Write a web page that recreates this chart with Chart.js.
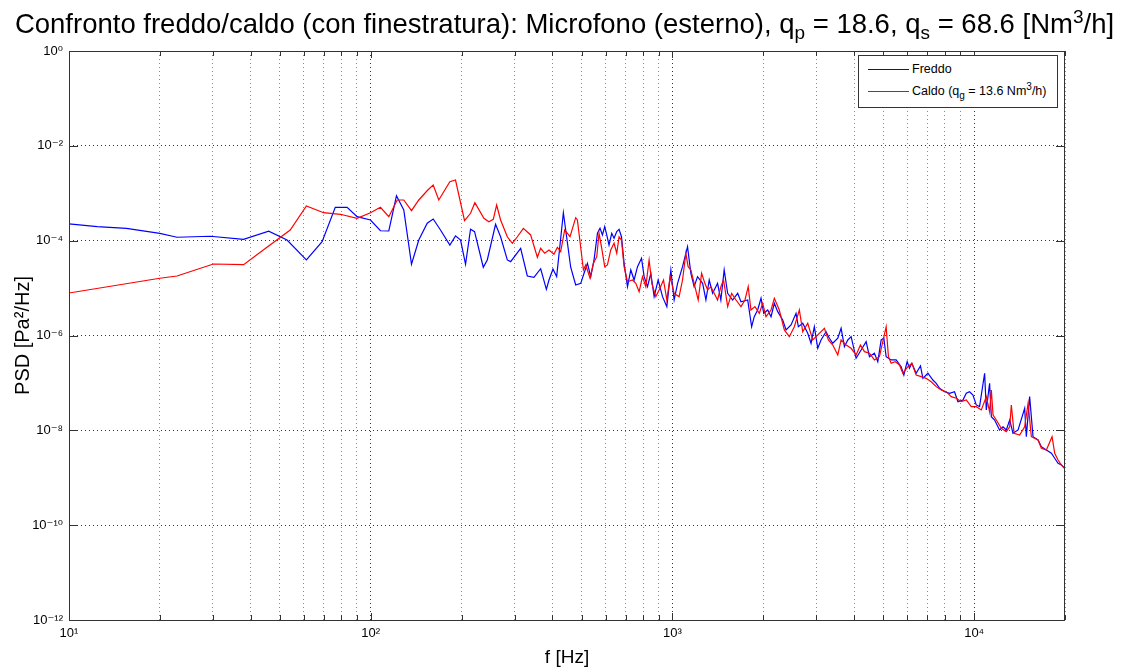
<!DOCTYPE html>
<html>
<head>
<meta charset="utf-8">
<title>Confronto freddo/caldo</title>
<script src="https://cdn.jsdelivr.net/npm/chart.js@4.4.1/dist/chart.umd.min.js"></script>
<style>
  html, body { margin: 0; padding: 0; background: #fff; }
  body { width: 1129px; height: 671px; position: relative; overflow: hidden;
         font-family: 'Liberation Sans', Arial, Helvetica, 'DejaVu Sans', sans-serif; color: #000; }
  #wrap { position: absolute; left: 0; top: 0; width: 1129px; height: 671px; }
  #title { position: absolute; left: 0; top: 9px; width: 1129px; text-align: center;
           font-size: 27.5px; line-height: 30px; white-space: nowrap; }
  #title sub { font-size: 19px; vertical-align: -6px; line-height: 0; }
  #title sup { font-size: 19px; vertical-align: 10px; line-height: 0; }
  #legend { position: absolute; left: 858px; top: 55px; width: 198px; height: 51px;
            border: 1px solid #333; background: #fff; font-size: 12.5px; }
  #legend .row { position: absolute; left: 9px; height: 16px; line-height: 16px; white-space: nowrap; }
  #legend .swatch { display: inline-block; width: 41px; height: 1px; vertical-align: middle; margin-right: 3px; }
  #legend sub { font-size: 10px; vertical-align: -4px; line-height: 0; }
  #legend sup { font-size: 10px; vertical-align: 5px; line-height: 0; }
</style>
</head>
<body>
<div id="wrap"><canvas id="psdChart"></canvas></div>
<div id="title">Confronto freddo/caldo (con finestratura): Microfono (esterno), q<sub>p</sub> = 18.6, q<sub>s</sub> = 68.6 [Nm<sup>3</sup>/h]</div>
<div id="legend">
  <div class="row" style="top:5px"><span class="swatch" style="background:#0000ff"></span>Freddo</div>
  <div class="row" style="top:27px"><span class="swatch" style="background:#ff0000"></span>Caldo (q<sub>g</sub> = 13.6 Nm<sup>3</sup>/h)</div>
</div>
<script>
// ── data (f in Hz, PSD in Pa^2/Hz) ──
const freqFreddo = [10, 12.4, 15.5, 20.0, 22.8, 29.4, 37.9, 45.9, 52.8, 61.2,
    69.0, 76.3, 83.5, 90.1, 99.8, 107.7, 114.8, 121.7, 128.7, 136.5,
    144.3, 153.9, 161.1, 170.3, 182.9, 191.0, 198.5, 206.2, 214.2, 220.9,
    236.1, 243.4, 259.3, 269.4, 283.6, 290.9, 314.0, 330.4, 347.5, 365.8,
    382.1, 389.8, 401.8, 413.3, 435.0, 460.0, 477.9, 496.6, 509.3, 522.7,
    536.0, 549.7, 564.2, 575.4, 586.1, 596.4, 605.6, 616.3, 629.2, 640.4,
    653.8, 665.4, 677.8, 691.4, 709.6, 727.7, 746.3, 766.0, 789.7, 805.6,
    826.7, 847.9, 869.6, 896.6, 927.1, 958.1, 987.9, 1013, 1040, 1080,
    1122, 1151, 1180, 1211, 1259, 1291, 1324, 1359, 1411, 1447,
    1484, 1524, 1583, 1645, 1687, 1776, 1830, 1867, 1916, 1966,
    2007, 2069, 2122, 2176, 2233, 2320, 2380, 2472, 2568, 2614,
    2703, 2808, 2880, 2953, 3031, 3108, 3229, 3312, 3399, 3532,
    3622, 3715, 3812, 3910, 4061, 4220, 4385, 4497, 4670, 4793,
    4917, 5019, 5108, 5306, 5512, 5728, 5848, 5997, 6104, 6216,
    6423, 6638, 6761, 7025, 7299, 7486, 7678, 7978, 8288, 8608,
    8835, 9180, 9415, 9654, 9908, 10160, 10420, 10830, 10970, 11250,
    11400, 11690, 12140, 12460, 12780, 13110, 13450, 13980, 14700, 14890,
    15270, 15670, 16280, 16700, 17350, 18030, 18490, 18970, 19460, 19950,
    20000];
const psdFreddo = [2.25e-4, 1.97e-4, 1.82e-4, 1.43e-4, 1.18e-4, 1.24e-4, 1.07e-4, 1.58e-4, 1.03e-4, 3.92e-5,
    9.5e-5, 5.06e-4, 5.06e-4, 3.21e-4, 2.73e-4, 1.62e-4, 1.60e-4, 8.89e-4, 4.44e-4, 3.18e-5,
    1.03e-4, 2.33e-4, 2.86e-4, 1.68e-4, 8.1e-5, 1.26e-4, 1.03e-4, 3.18e-5, 1.74e-4, 1.55e-4,
    2.75e-5, 3.92e-5, 2.21e-4, 1.21e-4, 3.92e-5, 3.61e-5, 6.9e-5, 1.80e-5, 1.69e-5, 2.56e-5,
    9.4e-6, 1.48e-5, 2.53e-5, 1.74e-5, 3.89e-4, 2.75e-5, 1.16e-5, 1.26e-5, 2.05e-5, 3.33e-5,
    1.74e-5, 3.92e-5, 1.43e-4, 1.82e-4, 1.32e-4, 1.97e-4, 1.32e-4, 8.1e-5, 1.43e-4, 1.12e-4,
    1.55e-4, 1.74e-4, 1.21e-4, 3.33e-5, 1.07e-5, 2.41e-5, 1.48e-5, 2.83e-5, 4.25e-5, 1.74e-5,
    1.07e-5, 2.05e-5, 6.6e-6, 1.48e-5, 6.6e-6, 4.06e-6, 2.41e-5, 5.61e-6, 1.26e-5, 2.83e-5,
    7.46e-5, 2.05e-5, 1.07e-5, 1.74e-5, 1.26e-5, 5.61e-6, 1.48e-5, 7.76e-6, 1.26e-5, 5.61e-6,
    2.41e-5, 7.76e-6, 5.61e-6, 7.76e-6, 5.16e-6, 5.61e-6, 1.53e-6, 2.49e-6, 3.45e-6, 6.1e-6,
    2.94e-6, 3.45e-6, 2.49e-6, 4.78e-6, 3.18e-6, 2.12e-6, 1.31e-6, 1.67e-6, 2.94e-6, 1.53e-6,
    1.81e-6, 1.11e-6, 6.85e-7, 1.53e-6, 5.37e-7, 8.05e-7, 1.20e-6, 8.73e-7, 6.85e-7, 8.73e-7,
    1.42e-6, 5.81e-7, 8.05e-7, 9.44e-7, 3.31e-7, 4.95e-7, 7.41e-7, 3.57e-7, 4.22e-7, 2.81e-7,
    8.05e-7, 8.73e-7, 3.57e-7, 3.05e-7, 3.05e-7, 2.20e-7, 1.47e-7, 2.81e-7, 2.04e-7, 2.59e-7,
    1.60e-7, 2.28e-7, 1.25e-7, 1.60e-7, 1.15e-7, 9.8e-8, 7.7e-8, 6.53e-8, 6.05e-8, 6.53e-8,
    4.02e-8, 4.37e-8, 6.05e-8, 6.53e-8, 5.57e-8, 3.43e-8, 3.16e-8, 1.60e-7, 2.69e-8, 9.8e-8,
    1.94e-8, 1.65e-8, 1.02e-8, 1.19e-8, 1.02e-8, 1.65e-8, 8.67e-9, 1.02e-8, 2.92e-8, 7.35e-9,
    5.13e-8, 7.35e-9, 6.26e-9, 4.52e-9, 3.85e-9, 3.28e-9, 2.58e-9, 2.02e-9, 1.86e-9, 1.58e-9,
    1.55e-9];

const freqCaldo = [10, 20.0, 22.8, 30.1, 37.9, 45.3, 54.1, 61.2, 69.8, 79.3,
    90.1, 99.8, 107.7, 114.8, 122.4, 128.7, 136.5, 144.3, 154.6, 161.1,
    168.1, 182.9, 191.0, 204.6, 214.2, 221.4, 237.2, 246.4, 254.8, 261.4,
    269.4, 283.6, 294.7, 306.2, 320.5, 338.8, 356.7, 365.8, 377.2, 389.8,
    404.8, 415.6, 426.2, 439.4, 457.6, 477.9, 484.1, 506.9, 516.0, 533.3,
    547.2, 561.2, 571.1, 581.7, 596.4, 608.9, 624.5, 640.4, 653.8, 665.4,
    677.8, 691.4, 709.6, 737.3, 756.0, 775.4, 795.7, 816.0, 836.9, 854.3,
    880.9, 903.3, 934.1, 958.1, 982.6, 1013, 1052, 1080, 1108, 1127,
    1151, 1180, 1217, 1249, 1281, 1308, 1341, 1375, 1411, 1447,
    1477, 1524, 1571, 1624, 1687, 1739, 1783, 1820, 1877, 1940,
    1991, 2042, 2122, 2176, 2260, 2349, 2440, 2535, 2634, 2703,
    2808, 2917, 3031, 3188, 3287, 3399, 3532, 3622, 3763, 3910,
    4061, 4198, 4328, 4497, 4670, 4853, 5108, 5198, 5306, 5471,
    5655, 5804, 6029, 6216, 6423, 6674, 6934, 7205, 7486, 7778,
    8081, 8395, 8722, 9062, 9415, 9781, 10160, 10560, 10970, 11250,
    11400, 11550, 11840, 12300, 12780, 13110, 13280, 13560, 14150, 14700,
    15090, 15470, 16280, 16700, 17350, 18120, 18490, 18970, 19460, 19950,
    20000];
const psdCaldo = [7.88e-6, 1.61e-5, 1.80e-5, 3.22e-5, 3.11e-5, 7.24e-5, 1.68e-4, 5.38e-4, 3.89e-4, 3.60e-4,
    2.96e-4, 3.89e-4, 5.06e-4, 3.21e-4, 7.21e-4, 7.21e-4, 4.29e-4, 7.21e-4, 1.17e-3, 1.49e-3,
    7.21e-4, 1.75e-3, 1.90e-3, 2.64e-4, 3.78e-4, 6.32e-4, 2.96e-4, 2.51e-4, 2.82e-4, 5.65e-4,
    2.73e-4, 1.21e-4, 8.8e-5, 1.21e-4, 1.82e-4, 1.32e-4, 4.46e-5, 6.9e-5, 5.42e-5, 6.36e-5,
    5.16e-5, 7.24e-5, 5.86e-5, 1.68e-4, 1.21e-4, 3.05e-4, 2.73e-4, 2.41e-5, 3.07e-5, 1.61e-5,
    3.33e-5, 4.59e-5, 1.43e-4, 7.46e-5, 2.83e-5, 3.07e-5, 6.36e-5, 8.8e-5, 5.42e-5, 1.21e-4,
    1.03e-4, 2.83e-5, 1.36e-5, 1.48e-5, 1.26e-5, 8.4e-6, 1.74e-5, 1.07e-5, 3.92e-5, 1.26e-5,
    6.6e-6, 9.12e-6, 1.48e-5, 5.61e-6, 1.74e-5, 7.76e-6, 6.6e-6, 1.48e-5, 5.42e-5, 2.83e-5,
    2.41e-5, 1.26e-5, 5.61e-6, 2.05e-5, 1.26e-5, 9.12e-6, 1.07e-5, 7.76e-6, 5.61e-6, 1.07e-5,
    1.48e-5, 4.06e-6, 7.76e-6, 5.61e-6, 4.06e-6, 5.61e-6, 1.07e-5, 3.45e-6, 4.06e-6, 2.94e-6,
    4.78e-6, 2.49e-6, 3.45e-6, 6.1e-6, 3.45e-6, 1.31e-6, 9.44e-7, 1.53e-6, 3.45e-6, 1.20e-6,
    1.81e-6, 8.05e-7, 1.03e-6, 1.42e-6, 8.05e-7, 6.31e-7, 3.88e-7, 8.05e-7, 6.31e-7, 5.37e-7,
    3.88e-7, 6.31e-7, 4.56e-7, 4.22e-7, 3.05e-7, 3.57e-7, 1.53e-6, 3.57e-7, 2.59e-7, 2.81e-7,
    2.39e-7, 1.60e-7, 2.20e-7, 2.59e-7, 1.47e-7, 1.36e-7, 1.25e-7, 1.06e-7, 8.34e-8, 7.1e-8,
    6.53e-8, 5.13e-8, 4.74e-8, 4.02e-8, 4.37e-8, 3.16e-8, 3.16e-8, 2.69e-8, 5.13e-8, 2.48e-8,
    7.1e-8, 2.11e-8, 1.65e-8, 1.10e-8, 9.38e-9, 1.19e-8, 3.43e-8, 8.67e-9, 7.98e-9, 1.19e-8,
    3.72e-8, 7.35e-9, 6.26e-9, 4.19e-9, 3.85e-9, 7.35e-9, 3.28e-9, 2.37e-9, 1.86e-9, 1.58e-9,
    1.55e-9];

// ── axes: grid positions and decade labels ──
const xGridValues = [10, 20, 30, 40, 50, 60, 70, 80, 90,
    100, 200, 300, 400, 500, 600, 700, 800, 900,
    1000, 2000, 3000, 4000, 5000, 6000, 7000, 8000, 9000,
    10000, 20000];
const xLabelValues = [10, 100, 1000, 10000];
const xLabelText = ['10¹', '10²', '10³', '10⁴'];
const yTickValues = [1e-12, 1e-10, 1e-8, 1e-6, 1e-4, 1e-2, 1];
const yLabelText = ['10⁻¹²', '10⁻¹⁰', '10⁻⁸', '10⁻⁶', '10⁻⁴', '10⁻²', '10⁰'];

const FONT = "'Liberation Sans', Arial, Helvetica, 'DejaVu Sans', sans-serif";

function toPoints(fs, ps) {
    return fs.map((f, i) => ({ x: f, y: ps[i] }));
}

// matlab-like frame: box all round + inward tick marks
const boxPlugin = {
    id: 'matlabBox',
    afterDatasetsDraw(chart) {
        const { ctx, chartArea: a, scales } = chart;
        ctx.save();
        ctx.strokeStyle = '#333';
        ctx.lineWidth = 1;
        ctx.beginPath();
        scales.x.ticks.forEach(t => {
            const px = Math.round(scales.x.getPixelForValue(t.value)) + 0.5;
            const len = xLabelValues.includes(t.value) ? 7 : 5;
            ctx.moveTo(px, a.bottom); ctx.lineTo(px, a.bottom - len);
            ctx.moveTo(px, a.top); ctx.lineTo(px, a.top + len);
        });
        scales.y.ticks.forEach(t => {
            const py = Math.round(scales.y.getPixelForValue(t.value)) + 0.5;
            ctx.moveTo(a.left, py); ctx.lineTo(a.left + 9, py);
            ctx.moveTo(a.right, py); ctx.lineTo(a.right - 9, py);
        });
        ctx.stroke();
        ctx.strokeRect(a.left + 0.5, a.top + 0.5, a.right - a.left - 1, a.bottom - a.top);
        ctx.restore();
    }
};

window.onload = function() {
    const ctx = document.getElementById('psdChart');
    new Chart(ctx, {
        type: 'line',
        data: {
            datasets: [{
                label: 'Freddo',
                data: toPoints(freqFreddo, psdFreddo),
                borderColor: '#0000ff',
                borderWidth: 1.2,
                pointRadius: 0,
                tension: 0,
                order: 1
            }, {
                label: 'Caldo (qg = 13.6 Nm³/h)',
                data: toPoints(freqCaldo, psdCaldo),
                borderColor: '#ff0000',
                borderWidth: 1.2,
                pointRadius: 0,
                tension: 0,
                order: 0
            }]
        },
        options: {
            responsive: true,
            maintainAspectRatio: false,
            animation: false,
            devicePixelRatio: 1,
            layout: { padding: { top: 51, right: 64, left: 0, bottom: 0 } },
            plugins: {
                legend: { display: false },
                title: { display: false },
                tooltip: { enabled: false }
            },
            scales: {
                x: {
                    type: 'logarithmic',
                    min: 10,
                    max: 20000,
                    afterBuildTicks: s => {
                        s.ticks = xGridValues.map(v => ({ value: v, major: xLabelValues.includes(v) }));
                    },
                    afterFit: s => { s.height = 51; },
                    ticks: {
                        autoSkip: false,
                        maxRotation: 0,
                        padding: 6,
                        color: '#000',
                        font: { family: FONT, size: 13 },
                        callback: v => {
                            const i = xLabelValues.indexOf(v);
                            return i >= 0 ? xLabelText[i] : '';
                        }
                    },
                    grid: {
                        drawTicks: false,
                        lineWidth: 1,
                        color: c => xLabelValues.includes(c.tick && c.tick.value) ? 'rgba(0,0,0,0.8)' : 'rgba(0,0,0,0.45)'
                    },
                    border: { display: false, dash: [1, 3] },
                    title: {
                        display: true,
                        text: 'f [Hz]',
                        color: '#000',
                        font: { family: FONT, size: 19 },
                        padding: { top: 0, bottom: 2 }
                    }
                },
                y: {
                    type: 'logarithmic',
                    min: 1e-12,
                    max: 1,
                    afterBuildTicks: s => {
                        s.ticks = yTickValues.map(v => ({ value: v, major: true }));
                    },
                    afterFit: s => { s.width = 69; },
                    ticks: {
                        autoSkip: false,
                        padding: 6,
                        color: '#000',
                        font: { family: FONT, size: 13 },
                        callback: v => {
                            const i = yTickValues.indexOf(v);
                            return i >= 0 ? yLabelText[i] : '';
                        }
                    },
                    grid: {
                        drawTicks: false,
                        lineWidth: 1,
                        color: 'rgba(0,0,0,0.8)'
                    },
                    border: { display: false, dash: [1, 3] },
                    title: {
                        display: true,
                        text: 'PSD [Pa²/Hz]',
                        color: '#000',
                        font: { family: FONT, size: 20 },
                        padding: { top: 11, bottom: 0 }
                    }
                }
            }
        },
        plugins: [boxPlugin]
    });
};
</script>
</body>
</html>
